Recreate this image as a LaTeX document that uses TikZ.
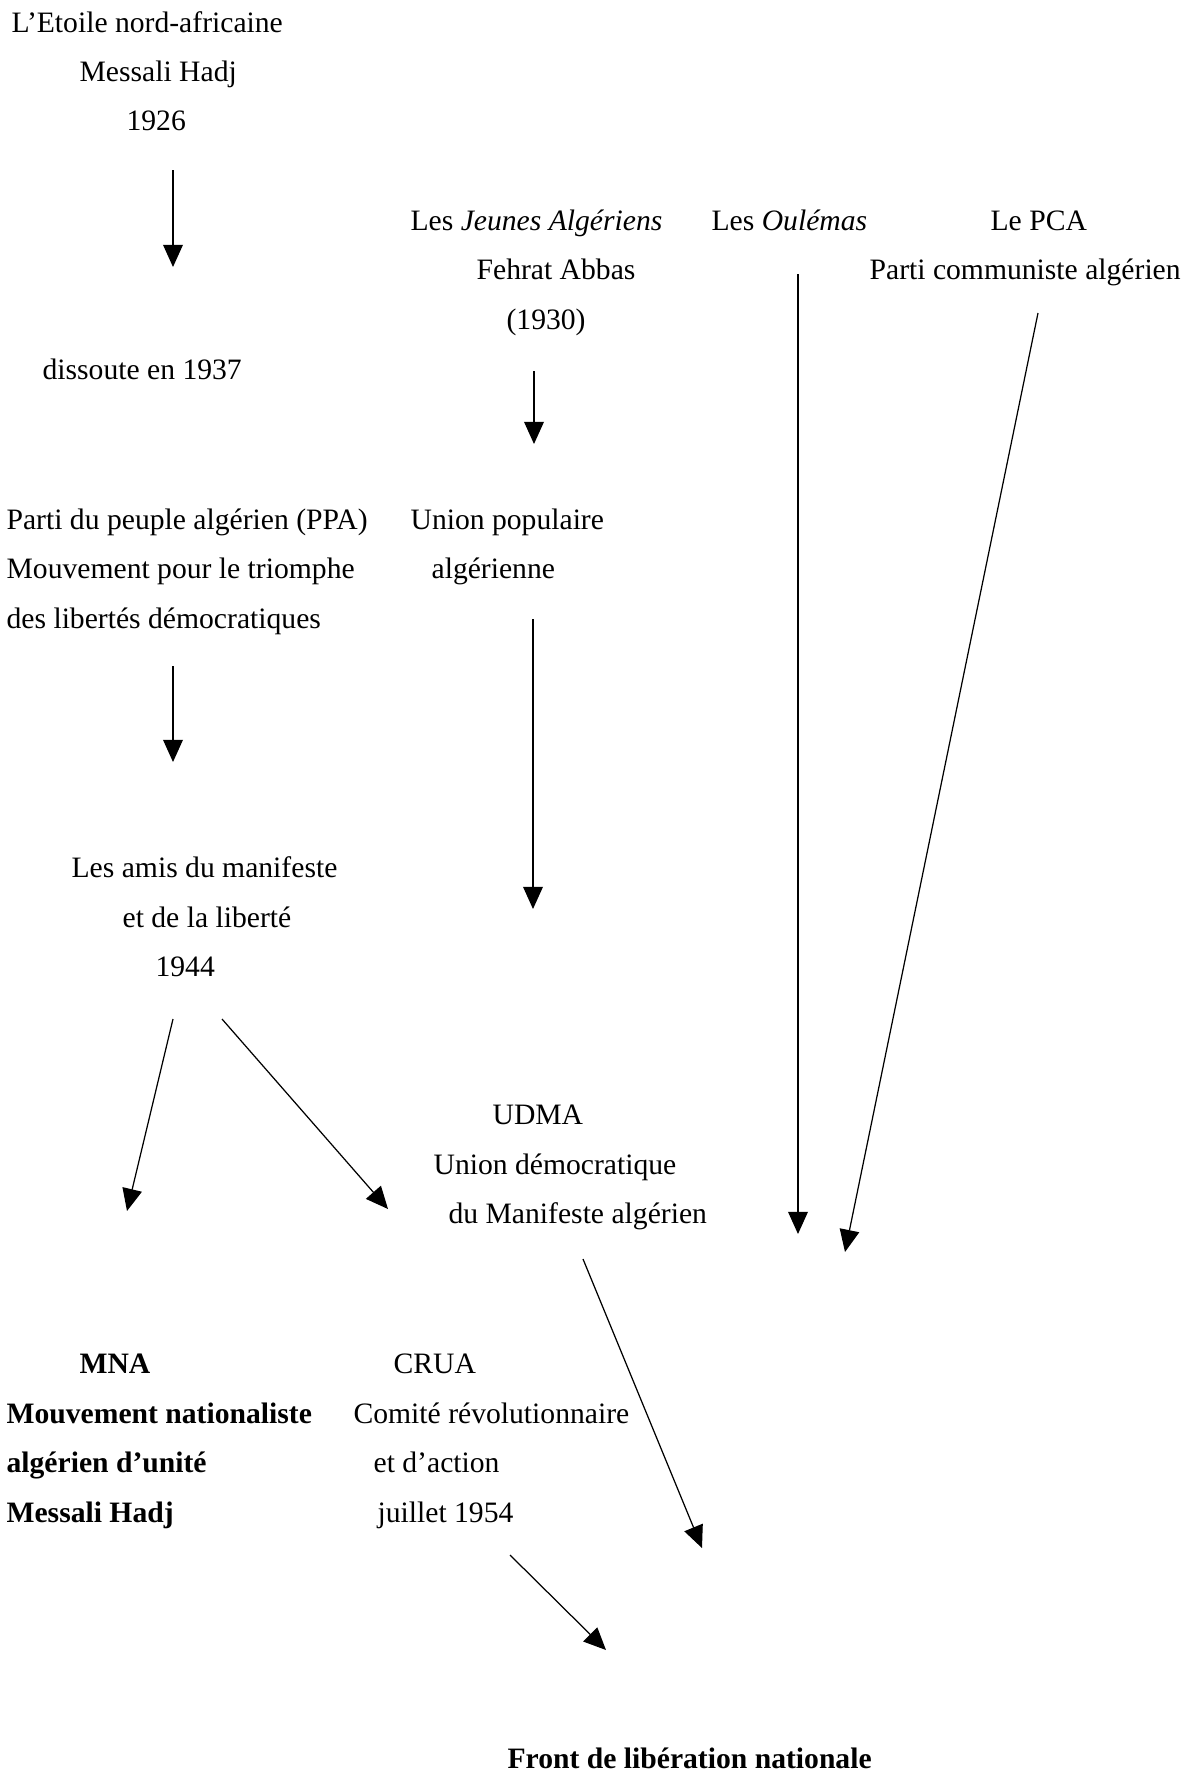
\documentclass[tikz,border=0pt]{standalone}
\usepackage{fontspec}
\setmainfont{Liberation Serif}
\usetikzlibrary{arrows.meta}

\begin{document}
\begin{tikzpicture}[x=0.405pt, y=-0.405pt, >={Triangle[length=9pt,width=8pt]},
  every node/.style={anchor=base west, inner sep=0pt, font=\fontsize{12}{14}\selectfont},
  line width=0.5pt]
\useasboundingbox (0,0) rectangle (1185,1775);

%the first column
\node (etoileA) at (11,32) {L'Etoile nord-africaine};
\node (etoileB) at (79,81) {Messali Hadj};
\node (etoileC) at (126,130) {1926};
\node (dissoute) at (42,379) {dissoute en 1937};
\node (ppaA) at (6,529) {Parti du peuple algérien (PPA)};
\node (ppaB) at (6,578) {Mouvement pour le triomphe};
\node (ppaC) at (6,628) {des libertés démocratiques};
\node (amlA) at (71,877) {Les amis du manifeste};
\node (amlB) at (122,927) {et de la liberté};
\node (amlC) at (155,976) {1944};

%the other parties
\node (jeunesA) at (410,230) {Les \textit{Jeunes Algériens}};
\node (jeunesB) at (476,279) {Fehrat Abbas};
\node (jeunesC) at (506,329) {(1930)};
\node (oulemas) at (711,230) {Les \textit{Oulémas}};
\node (pcaA) at (990,230) {Le PCA};
\node (pcaB) at (869,279) {Parti communiste algérien};
\node (upaA) at (410,529) {Union populaire};
\node (upaB) at (431,578) {algérienne};
\node (udmaA) at (492,1124) {UDMA};
\node (udmaB) at (433,1174) {Union démocratique};
\node (udmaC) at (448,1223) {du Manifeste algérien};

%the bottom
\node (mnaA) at (79,1373) {\textbf{MNA}};
\node (mnaB) at (6,1423) {\textbf{Mouvement nationaliste}};
\node (mnaC) at (6,1472) {\textbf{algérien d'unité}};
\node (mnaD) at (6,1522) {\textbf{Messali Hadj}};
\node (cruaA) at (393,1373) {CRUA};
\node (cruaB) at (353,1423) {Comité révolutionnaire};
\node (cruaC) at (373,1472) {et d'action};
\node (cruaD) at (377,1522) {juillet 1954};
\node (fln) at (507,1768) {\textbf{Front de libération nationale}};

%the arrow ends
\coordinate (e1) at (173,170);   \coordinate (e2) at (173,267);
\coordinate (j1) at (534,371);   \coordinate (j2) at (534,444);
\coordinate (o1) at (798,274);   \coordinate (o2) at (798,1234);
\coordinate (c1) at (1038,313);  \coordinate (c2) at (845,1252);
\coordinate (p1) at (173,666);   \coordinate (p2) at (173,762);
\coordinate (u1) at (533,619);   \coordinate (u2) at (533,909);
\coordinate (m1) at (173,1019);  \coordinate (m2) at (127,1211);
\coordinate (d1) at (222,1019);  \coordinate (d2) at (388,1209);
\coordinate (f1) at (583,1259);  \coordinate (f2) at (702,1548);
\coordinate (r1) at (510,1555);  \coordinate (r2) at (606,1650);

%the arrows
\draw [->] (e1) -- (e2);
\draw [->] (j1) -- (j2);
\draw [->] (o1) -- (o2);
\draw [->] (c1) -- (c2);
\draw [->] (p1) -- (p2);
\draw [->] (u1) -- (u2);
\draw [->] (m1) -- (m2);
\draw [->] (d1) -- (d2);
\draw [->] (f1) -- (f2);
\draw [->] (r1) -- (r2);
\end{tikzpicture}
\end{document}
